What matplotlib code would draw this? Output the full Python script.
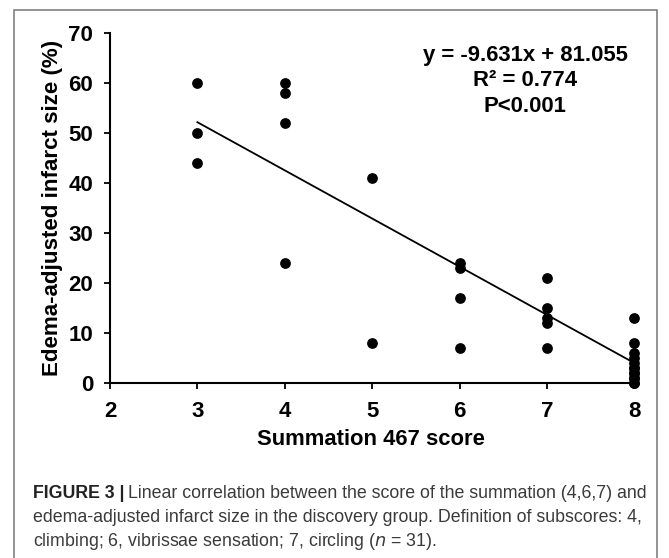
import numpy as np
import matplotlib
matplotlib.use("Agg")
from matplotlib import pyplot as plt
from matplotlib.patches import Rectangle

# dane z wykresu
score = [3, 3, 3,
         4, 4, 4, 4,
         5, 5,
         6, 6, 6, 6,
         7, 7, 7, 7, 7,
         8, 8, 8, 8, 8, 8, 8, 8, 8, 8, 8, 8, 8]
infarct = [60, 50, 44,
           60, 58, 52, 24,
           41, 8,
           24, 23, 17, 7,
           21, 15, 13, 12, 7,
           13, 8, 6, 5, 4, 3, 3, 2, 2, 1, 1, 0, 0]
slope = -9.631
intercept = 81.055
eq_lines = ["y = -9.631x + 81.055", "R² = 0.774", "P<0.001"]
xticks = [2, 3, 4, 5, 6, 7, 8]
yticks = [0, 10, 20, 30, 40, 50, 60, 70]
cap_bold = "FIGURE 3 |"
cap_lines = ["Linear correlation between the score of the summation (4,6,7) and",
             "edema-adjusted infarct size in the discovery group. Definition of subscores: 4,",
             "climbing; 6, vibrissae sensation; 7, circling ($n$ = 31)."]

plt.rcParams['font.family'] = ['Liberation Sans', 'DejaVu Sans']

W, H = 669, 558
fig = plt.figure(figsize=(W / 100, H / 100), dpi=100)
r = fig.canvas.get_renderer()


def fit(t, target_px):
    # dopasuj rozmiar fontu do szerokosci z obrazka
    w = t.get_window_extent(renderer=r)
    w = max(w.width, w.height)
    t.set_fontsize(t.get_fontsize() * target_px / w)


# os: x 2..8.02 -> px 110..636, y 0..70 -> px 383..33
ax = fig.add_axes([110 / W, 1 - 383 / H, 526 / W, 350 / H])

ax.scatter(score, infarct, s=60, color='black', zorder=3, clip_on=False, linewidths=0)
xs = np.array([min(score), max(score)])
ax.plot(xs, slope * xs + intercept, color='black', lw=1.3)

ax.set_xlim(2, 8.02)
ax.set_ylim(0, 70)
ax.set_xticks(xticks)
ax.set_yticks(yticks)
for s in ['top', 'right']:
    ax.spines[s].set_visible(False)
for s in ['left', 'bottom']:
    ax.spines[s].set_linewidth(1.5)
ax.tick_params(axis='both', direction='out', length=4, width=1.3, labelsize=16)
ax.tick_params(axis='y', pad=8)
ax.tick_params(axis='x', pad=9)
for lab in ax.get_xticklabels() + ax.get_yticklabels():
    lab.set_fontweight('bold')

xl = ax.set_xlabel('Summation 467 score', fontsize=16, fontweight='bold')
fit(xl, 227)
ax.xaxis.set_label_coords(0.497, (383 - 429) / 350)
yl = ax.set_ylabel('Edema-adjusted infarct size (%)', fontsize=16, fontweight='bold')
fit(yl, 337)
ax.yaxis.set_label_coords((63 - 110) / 526, 0.5)

for i, t in enumerate(eq_lines):
    et = fig.text(525 / W, 1 - (55 + i * 25.5) / H, t, ha='center', va='center',
                  fontsize=16, fontweight='bold')
    if i == 0:
        fit(et, 205)
        eq_fs = et.get_fontsize()
    else:
        et.set_fontsize(eq_fs)

# ramka
fig.patches.append(Rectangle((14 / W, -0.05), (657 - 14) / W, 1 - 10 / H + 0.05,
                             transform=fig.transFigure, fill=False,
                             edgecolor='#777777', lw=1.1))

cap_y = [493, 517, 541]
cap_fs = 12.8
b = fig.text(33 / W, 1 - cap_y[0] / H, cap_bold, fontsize=cap_fs, fontweight='bold',
             color='#222222', va='center')
bx = b.get_window_extent(renderer=r).x1
fig.text(bx / W + 4 / W, 1 - cap_y[0] / H, cap_lines[0],
         fontsize=cap_fs, color='#3a3a3a', va='center')
for k in (1, 2):
    fig.text(33 / W, 1 - cap_y[k] / H, cap_lines[k],
             fontsize=cap_fs, color='#3a3a3a', va='center')

fig.savefig('out.png', dpi=100)
